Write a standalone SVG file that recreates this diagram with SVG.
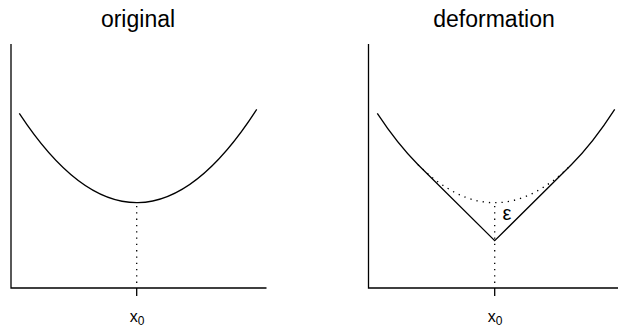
<svg xmlns="http://www.w3.org/2000/svg" width="618" height="329" viewBox="0 0 618 329">
<style>
.ax{fill:none;stroke:#000;stroke-width:1.3}
.cv{fill:none;stroke:#000;stroke-width:1.3}
.dt{fill:none;stroke:#000;stroke-width:1.3;stroke-dasharray:1.3 5}
.t{font-family:"Liberation Sans",Arial,sans-serif;fill:#000}
</style>
<rect width="618" height="329" fill="#fff"/>
<g id="panel-original">
<text class="t" x="138" y="27" font-size="23" text-anchor="middle">original</text>
<path class="ax" d="M11 44 V288 H266.5 M136.7 288 V296"/>
<path class="cv" d="M19.3 113.4 Q138 293.9 256.7 109.4"/>
<path class="dt" d="M136.7 206 V288"/>
<text class="t" x="137" y="322" font-size="16" text-anchor="middle">x<tspan font-size="12" dy="3">0</tspan></text>
</g>
<g id="panel-deformation">
<text class="t" x="494" y="27" font-size="23" text-anchor="middle">deformation</text>
<path class="ax" d="M368.5 44 V288 H618 M494.7 288 V296"/>
<path class="cv" d="M377.3 113.4 Q397.7 144.4 418.1 164.7 L494.7 240.7 L571.3 164.7 Q593 143.15 614.7 109.4"/>
<path class="dt" d="M418.1 164.7 Q494.7 240.7 571.3 164.7"/>
<path class="dt" d="M494.7 206 V288"/>
<text class="t" x="507" y="220" font-size="20" text-anchor="middle">ε</text>
<text class="t" x="495" y="322" font-size="16" text-anchor="middle">x<tspan font-size="12" dy="3">0</tspan></text>
</g>
</svg>
